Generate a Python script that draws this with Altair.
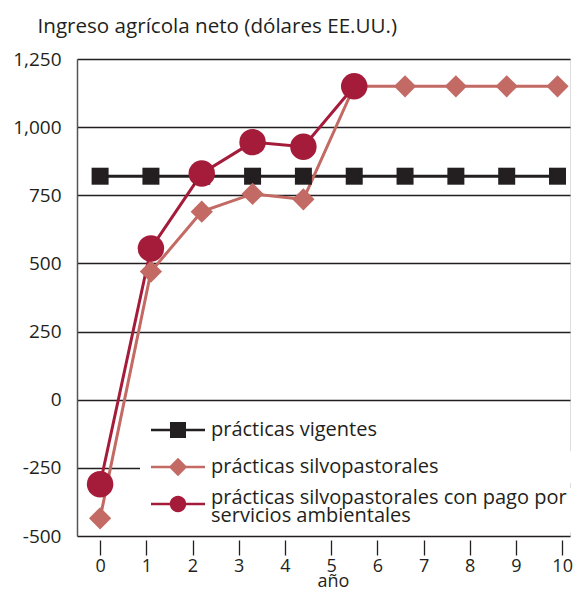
import altair as alt
import pandas as pd

# ---- data ----
x_pos = [0, 1.1, 2.2, 3.3, 4.4, 5.5, 6.6, 7.7, 8.8, 9.9]
series_names = [
    "prácticas vigentes",
    "prácticas silvopastorales",
    "prácticas silvopastorales con pago por servicios ambientales",
]
vigentes = [820, 820, 820, 820, 820, 820, 820, 820, 820, 820]
silvopastorales = [-435, 470, 690, 755, 735, 1150, 1150, 1150, 1150, 1150]
con_pago = [-310, 555, 830, 945, 928, 1150]
x_ticks = [0, 1, 2, 3, 4, 5, 6, 7, 8, 9, 10]
y_ticks = [-500, -250, 0, 250, 500, 750, 1000, 1250]

colors = ["#231f20", "#c26a63", "#a51c3a"]
shapes = ["square", "diamond", "circle"]
marker_sizes = [289, 700, 576]
line_widths = [3, 3, 2.5]

rows = []
for name, vals in zip(series_names, [vigentes, silvopastorales, con_pago]):
    for x, v in zip(x_pos, vals):
        rows.append({"serie": name, "x": x, "y": v})
df = pd.DataFrame(rows)

FONT = "Open Sans"
TXT = "#231f20"
PAD = "\u00a0" * 32 + "\u200b"  # keeps the white legend box wide over the grid line

# legend symbols: a thin bar with the series marker in its middle (filled paths)
BAR = "M-2.7,-0.13L2.7,-0.13L2.7,0.13L-2.7,0.13Z"
legend_paths = [
    BAR + "M-0.8,-0.8L0.8,-0.8L0.8,0.8L-0.8,0.8Z",
    BAR + "M-0.92,0L0,-0.92L0.92,0L0,0.92Z",
    BAR + "M-0.82,0A0.82,0.82 0 1,1 0.82,0A0.82,0.82 0 1,1 -0.82,0Z",
]
legend_y = [355, 392, 429]
legend_labels = [
    "datum.label",
    "datum.label + '" + PAD + "'",
    "['prácticas silvopastorales con pago por', 'servicios ambientales']",
]
legend_baselines = ["middle", "middle", "alphabetic"]

color_scale = alt.Scale(domain=series_names, range=colors)

x_enc = alt.X(
    "x:Q",
    scale=alt.Scale(domain=[-0.5, 10.17], nice=False, zero=False),
    axis=alt.Axis(
        values=x_ticks, grid=False, domain=False, offset=4, tickSize=15,
        tickColor=TXT, tickWidth=1.3, labelFontSize=18, labelFont=FONT,
        labelColor=TXT, labelPadding=2, title="año", titleFont=FONT,
        titleFontSize=18, titleFontWeight="normal", titleColor=TXT,
        titleAlign="center", titleBaseline="alphabetic", titleX=256, titleY=46,
    ),
)
y_enc = alt.Y(
    "y:Q",
    scale=alt.Scale(domain=[-500, 1250], nice=False, zero=False),
    axis=alt.Axis(
        values=y_ticks, grid=True, gridColor=TXT, gridWidth=1.3, gridOpacity=1,
        ticks=False, domain=True, domainColor="#555555", domainWidth=1.5,
        labelFontSize=19, labelFont=FONT, labelColor=TXT, labelPadding=16,
        labelExpr="datum.value < 0 ? '-' + format(-datum.value, ',') : format(datum.value, ',')",
        title="Ingreso agrícola neto (dólares EE.UU.)", titleFont=FONT,
        titleFontSize=20.6, titleFontWeight="normal", titleColor=TXT,
        titleAngle=0, titleAlign="left", titleBaseline="alphabetic",
        titleX=-40, titleY=-27,
    ),
)

lines = alt.Chart(df).mark_line().encode(
    x=x_enc,
    y=y_enc,
    color=alt.Color("serie:N", scale=color_scale, legend=None),
    strokeWidth=alt.StrokeWidth(
        "serie:N", scale=alt.Scale(domain=series_names, range=line_widths), legend=None
    ),
    detail="serie:N",
)

points = alt.Chart(df).mark_point(filled=True, opacity=1).encode(
    x=x_enc,
    y=y_enc,
    color=alt.Color("serie:N", scale=color_scale, legend=None),
    shape=alt.Shape("serie:N", scale=alt.Scale(domain=series_names, range=shapes), legend=None),
    size=alt.Size("serie:N", scale=alt.Scale(domain=series_names, range=marker_sizes), legend=None),
)

legend_layers = []
for i, name in enumerate(series_names):
    lg = alt.Legend(
        orient="none", legendX=63, legendY=legend_y[i], title=None,
        labelFont=FONT, labelFontSize=20, labelColor=TXT, labelLimit=700,
        labelBaseline=legend_baselines[i],
        symbolSize=400, symbolStrokeWidth=0, symbolFillColor=colors[i],
        symbolStrokeColor=colors[i], symbolOpacity=1, symbolOffset=22,
        labelOffset=23, fillColor="white", padding=6,
        labelExpr=legend_labels[i],
    )
    legend_layers.append(
        alt.Chart(df)
        .transform_filter("false")
        .mark_point(filled=True, fill=colors[i], opacity=1)
        .encode(
            shape=alt.Shape(
                "serie:N",
                scale=alt.Scale(domain=[name], range=[legend_paths[i]]),
                legend=lg,
            )
        )
    )

chart = (
    alt.layer(lines, points, *legend_layers)
    .resolve_scale(shape="independent")
    .resolve_legend(shape="independent")
    .properties(
        width=493, height=477,
        autosize=alt.AutoSizeParams(type="none"),
        padding={"left": 69, "top": 51, "right": 6, "bottom": 52},
    )
    .configure_view(stroke=None)
    .configure(background="white", style={"guide-label": {"lineHeight": 18}})
)

chart.save("out.html", embed_options={"renderer": "svg", "actions": False})
